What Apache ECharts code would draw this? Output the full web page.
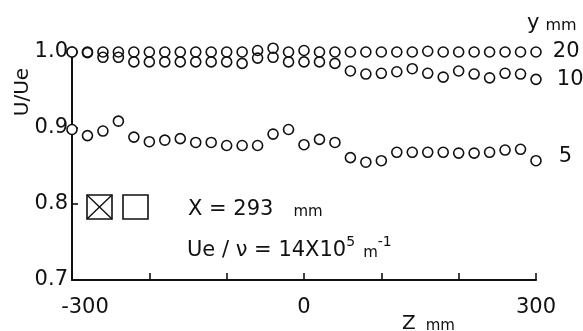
<!DOCTYPE html>
<html>
<head>
<meta charset="utf-8">
<script src="https://cdn.jsdelivr.net/npm/echarts@6/dist/echarts.min.js"></script>
<style>
  html, body { margin: 0; padding: 0; background: #fff; }
  #chart { width: 583px; height: 331px; }
</style>
</head>
<body>
<div id="chart"></div>
<script>
// Spanwise stations Z (mm)
const zStations = [-300, -280, -260, -240, -220, -200, -180, -160, -140, -120, -100, -80, -60, -40, -20, 0,
                   20, 40, 60, 80, 100, 120, 140, 160, 180, 200, 220, 240, 260, 280, 300];

// U/Ue at y = 20 mm
const uY20 = [1.000, 1.000, 1.000, 1.000, 1.000, 1.000, 1.000, 1.000, 1.000, 1.000, 1.000, 1.000, 1.002, 1.005, 1.000, 1.002,
              1.000, 1.000, 1.000, 1.000, 1.000, 1.000, 1.000, 1.001, 1.000, 1.000, 1.000, 1.000, 1.000, 1.000, 1.000];

// U/Ue at y = 10 mm
const uY10 = [1.000, 0.999, 0.993, 0.993, 0.987, 0.987, 0.987, 0.987, 0.987, 0.987, 0.987, 0.985, 0.992, 0.993, 0.987, 0.987,
              0.987, 0.985, 0.975, 0.971, 0.972, 0.974, 0.978, 0.972, 0.967, 0.975, 0.971, 0.966, 0.972, 0.971, 0.964];

// U/Ue at y = 5 mm
const uY5 = [0.898, 0.890, 0.896, 0.909, 0.888, 0.882, 0.884, 0.886, 0.881, 0.881, 0.877, 0.877, 0.877, 0.892, 0.898, 0.878,
             0.885, 0.881, 0.861, 0.855, 0.857, 0.868, 0.868, 0.868, 0.868, 0.867, 0.867, 0.868, 0.871, 0.872, 0.857];

const heightLabels = ['20', '10', '5'];
const xTickLabels = ['-300', '0', '300'];
const yTickLabels = ['0.7', '0.8', '0.9', '1.0'];

const FONT = '"DejaVu Sans", "Liberation Sans", sans-serif';
const INK = '#111';

function buildSeries(values, name, labelOffset) {
  const last = values.length - 1;
  const data = values.map((u, i) => {
    const item = { value: [zStations[i], u] };
    // the first point sits on the axis line, so it is filled white
    if (i === 0) item.itemStyle = { color: '#fff' };
    if (i === last) item.label = { show: true };
    return item;
  });
  return {
    type: 'scatter', name: name, data: data, clip: false,
    symbol: 'circle', symbolSize: 10,
    itemStyle: { color: 'rgba(255,255,255,0)', borderColor: INK, borderWidth: 1.6, opacity: 1 },
    label: {
      show: false, position: 'right', formatter: name, offset: labelOffset,
      fontFamily: FONT, fontSize: 21, color: INK, opacity: 1, textBorderWidth: 0
    },
    emphasis: { disabled: true }
  };
}

const chart = echarts.init(document.getElementById('chart'), null, { renderer: 'canvas' });

chart.setOption({
  animation: false,
  backgroundColor: '#fff',
  grid: { left: 72, right: 47, top: 52, bottom: 51 },
  xAxis: {
    type: 'value', min: -300, max: 300, interval: 100,
    axisLine: { lineStyle: { color: INK, width: 2 } },
    axisTick: { inside: true, length: 7, lineStyle: { color: INK, width: 1.6 } },
    splitLine: { show: false },
    axisLabel: {
      margin: 17, color: INK, fontFamily: FONT, fontSize: 21,
      formatter: v => {
        const s = String(v);
        if (!xTickLabels.includes(s)) return '';
        return v === -300 ? '{m|' + s + '}' : s;
      },
      rich: { m: { fontFamily: FONT, fontSize: 21, color: INK, padding: [0, 0, 0, 26] } }
    }
  },
  yAxis: {
    type: 'value', min: 0.7, max: 1.0, interval: 0.1,
    axisLine: { show: true, onZero: false, lineStyle: { color: INK, width: 2 } },
    axisTick: { inside: true, length: 6, lineStyle: { color: INK, width: 1.6 } },
    splitLine: { show: false },
    axisLabel: {
      margin: 4, color: INK, fontFamily: FONT, fontSize: 21,
      formatter: v => {
        const s = v.toFixed(1);
        return yTickLabels.includes(s) ? s : '';
      }
    }
  },
  series: [
    buildSeries(uY20, heightLabels[0], [6, 0]),
    buildSeries(uY10, heightLabels[1], [10, 0]),
    buildSeries(uY5, heightLabels[2], [12, -4])
  ],
  graphic: [
    // vertical axis title
    {
      type: 'text', x: 23, y: 92, rotation: Math.PI / 2,
      style: { text: 'U/Ue', font: '20px ' + FONT, fill: INK, align: 'center', verticalAlign: 'middle' }
    },
    // profile-height heading
    {
      type: 'text', x: 527, y: 22,
      style: {
        text: '{a|y}{b|mm}', fill: INK, verticalAlign: 'middle',
        rich: {
          a: { fontFamily: FONT, fontSize: 21, color: INK, verticalAlign: 'bottom', lineHeight: 24 },
          b: { fontFamily: FONT, fontSize: 16, color: INK, verticalAlign: 'bottom', lineHeight: 19, padding: [0, 0, 0, 6] }
        }
      }
    },
    // horizontal axis title
    {
      type: 'text', x: 402, y: 322,
      style: {
        text: '{a|Z}{b|mm}', fill: INK, verticalAlign: 'middle',
        rich: {
          a: { fontFamily: FONT, fontSize: 20, color: INK, verticalAlign: 'bottom', lineHeight: 24 },
          b: { fontFamily: FONT, fontSize: 15, color: INK, verticalAlign: 'bottom', lineHeight: 21, padding: [0, 0, 0, 10] }
        }
      }
    },
    // symbol key: crossed box and plain box
    { type: 'rect', shape: { x: 87, y: 195, width: 25, height: 24 }, style: { fill: 'none', stroke: INK, lineWidth: 1.6 } },
    { type: 'line', shape: { x1: 87, y1: 195, x2: 112, y2: 219 }, style: { stroke: INK, lineWidth: 1.4 } },
    { type: 'line', shape: { x1: 112, y1: 195, x2: 87, y2: 219 }, style: { stroke: INK, lineWidth: 1.4 } },
    { type: 'rect', shape: { x: 123, y: 195, width: 25, height: 24 }, style: { fill: 'none', stroke: INK, lineWidth: 1.6 } },
    // test conditions
    {
      type: 'text', x: 188, y: 208,
      style: {
        text: '{a|X = 293}{b|mm}', fill: INK, verticalAlign: 'middle',
        rich: {
          a: { fontFamily: FONT, fontSize: 21, color: INK, verticalAlign: 'bottom', lineHeight: 24 },
          b: { fontFamily: FONT, fontSize: 15, color: INK, verticalAlign: 'bottom', lineHeight: 20, padding: [0, 0, 0, 20] }
        }
      }
    },
    {
      type: 'text', x: 187, y: 248,
      style: {
        text: '{a|Ue / \u03bd = 14X10}{s|5}{b|m}{s|-1}', fill: INK, verticalAlign: 'middle',
        rich: {
          a: { fontFamily: FONT, fontSize: 21, color: INK, verticalAlign: 'bottom', lineHeight: 26 },
          b: { fontFamily: FONT, fontSize: 15, color: INK, verticalAlign: 'bottom', lineHeight: 21, padding: [0, 0, 0, 8] },
          s: { fontFamily: FONT, fontSize: 14, color: INK, verticalAlign: 'top', lineHeight: 14 }
        }
      }
    }
  ]
});
</script>
</body>
</html>
